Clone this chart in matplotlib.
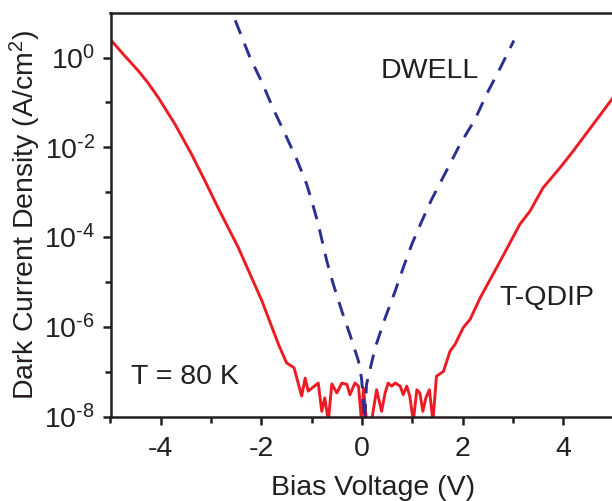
import matplotlib
matplotlib.use("Agg")
import matplotlib.pyplot as plt
import numpy as np
from matplotlib.ticker import NullFormatter, FuncFormatter

plt.rcParams['font.family'] = ['Liberation Sans', 'DejaVu Sans']
plt.rcParams['mathtext.fontset'] = 'custom'
plt.rcParams['mathtext.rm'] = 'Liberation Sans'
plt.rcParams['mathtext.it'] = 'Liberation Sans:italic'
plt.rcParams['mathtext.bf'] = 'Liberation Sans:bold'
plt.rcParams['axes.unicode_minus'] = False

# T-QDIP dark current (bias in V, log10 of J in A/cm^2)
tqdip_v = [-5.0, -4.75, -4.45, -4.25, -4.05, -3.72, -3.39, -3.12, -2.86, -2.46, -1.99,
           -1.66, -1.50, -1.35, -1.20, -1.13, -1.07, -0.87, -0.80, -0.74, -0.67,
           -0.60, -0.50, -0.40, -0.30, -0.24, -0.14, -0.07, -0.01, 0.03, 0.09,
           0.19, 0.29, 0.39, 0.46, 0.52, 0.59, 0.66, 0.76, 0.82, 0.89,
           0.95, 1.02, 1.09, 1.15, 1.21, 1.27, 1.34, 1.41, 1.48, 1.62,
           1.75, 1.85, 2.01, 2.15, 2.35, 2.74, 3.14, 3.34, 3.60, 3.94,
           4.20, 4.60, 5.0]
tqdip_logj = [0.40, 0.08, -0.29, -0.57, -0.89, -1.48, -2.15, -2.75, -3.35, -4.23, -5.42,
              -6.39, -6.80, -6.91, -7.54, -7.14, -7.43, -7.25, -7.88, -7.58, -8.1,
              -7.27, -7.47, -7.25, -7.28, -7.51, -7.25, -7.32, -8.1, -7.36, -8.1,
              -8.1, -7.40, -7.88, -7.47, -7.25, -7.32, -7.25, -7.32, -7.51, -7.32,
              -7.54, -8.1, -7.40, -7.47, -7.88, -7.58, -7.40, -8.1, -7.10, -6.99,
              -6.54, -6.39, -6.02, -5.83, -5.35, -4.55, -3.71, -3.42, -2.90, -2.45,
              -2.08, -1.48, -0.88]

# DWELL dark current
dwell_v = [-2.52, -2.23, -1.99, -1.76, -1.53, -1.30, -1.10, -1.00, -0.87, -0.70,
           -0.57, -0.40, -0.24, -0.07, -0.01, 0.03, 0.05, 0.09, 0.26, 0.46,
           0.66, 0.82, 0.99, 1.19, 1.38, 1.68, 1.95, 2.25, 2.48, 2.74,
           3.02]
dwell_logj = [0.83, 0.01, -0.55, -1.15, -1.70, -2.26, -2.82, -3.19, -3.71, -4.53,
              -5.05, -5.65, -6.17, -6.76, -7.14, -7.66, -8.1, -7.28, -6.47, -5.80,
              -5.20, -4.68, -4.16, -3.64, -3.17, -2.52, -1.93, -1.37, -0.81, -0.25,
              0.38]

tqdip_j = 10.0 ** np.array(tqdip_logj)
dwell_j = 10.0 ** np.array(dwell_logj)

ink = '#231F20'


def pow_label(val, pos):
    e = int(round(np.log10(val)))
    s = str(e).replace('-', '\u2010')
    return '10$^{\\mathregular{%s}}$' % s


fig = plt.figure(figsize=(6.12, 5.01), dpi=100)
ax = fig.add_axes([110.5 / 612, 84.3 / 501, 503 / 612, 404 / 501])

ax.plot(tqdip_v, tqdip_j, color='#ED1C24', lw=2.1)
ax.plot(dwell_v, dwell_j, color='#2B3090', lw=2.1, dashes=(5, 3.6))

ax.set_yscale('log')
ax.set_xlim(-5, 5)
ax.set_ylim(1e-8, 1e1)
ax.set_xticks([-4, -2, 0, 2, 4])
ax.set_xticks([-5, -3, -1, 1, 3, 5], minor=True)
ax.set_yticks([1e-8, 1e-6, 1e-4, 1e-2, 1e0])
ax.set_yticks([1e-7, 1e-5, 1e-3, 1e-1], minor=True)
ax.yaxis.set_major_formatter(FuncFormatter(pow_label))
ax.yaxis.set_minor_formatter(NullFormatter())

for s in ax.spines.values():
    s.set_linewidth(1.8)
    s.set_color(ink)
ax.tick_params(which='major', direction='out', length=6, width=1.8,
               labelsize=20.5, color=ink, labelcolor=ink)
ax.tick_params(axis='x', which='major', pad=8)
ax.tick_params(axis='y', which='major', pad=5)
ax.tick_params(which='minor', direction='out', length=4.5, width=1.8, color=ink)

ax.set_xlabel('Bias Voltage (V)', fontsize=20.5, color=ink, labelpad=9)
ax.xaxis.set_label_coords(0.521, -0.145)
ax.set_ylabel('Dark Current Density (A/cm$^2$)', fontsize=20.5, color=ink)
ax.yaxis.set_label_coords(-0.134, 0.5)

ax.text(0.38, 10 ** -0.29, 'DWELL', fontsize=20.5, color=ink, ha='left', va='center')
ax.text(2.74, 10 ** -5.36, 'T-QDIP', fontsize=20.5, color=ink, ha='left', va='center')
ax.text(-4.6, 10 ** -7.12, 'T = 80 K', fontsize=20.5, color=ink, ha='left', va='center')

fig.savefig('out.png', dpi=100)
